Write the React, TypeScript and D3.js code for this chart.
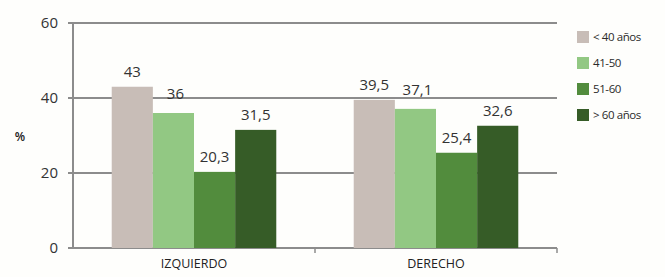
import { useRef, useEffect } from "react";
import * as d3 from "d3";

const categories = ["IZQUIERDO", "DERECHO"];
const seriesNames = ["< 40 años", "41-50", "51-60", "> 60 años"];
const seriesColors = ["#c8bdb7", "#92c883", "#528c3d", "#365c27"];
const values = [
  [43, 39.5],
  [36, 37.1],
  [20.3, 25.4],
  [31.5, 32.6],
];
const yTicks = [0, 20, 40, 60];

const fmt = (v: number) => String(v).replace(".", ",");

export default function App() {
  const svgRef = useRef<SVGSVGElement>(null);

  useEffect(() => {
    const svg = d3.select(svgRef.current);
    svg.selectAll("*").remove();

    const W = 665;
    const H = 277;
    const margin = { top: 23, right: 108, bottom: 29, left: 73 };
    const width = W - margin.left - margin.right;
    const height = H - margin.top - margin.bottom;
    const font = "'Open Sans', 'DejaVu Sans', sans-serif";
    const gridColor = "#8c8c8c";

    svg.attr("width", W).attr("height", H);
    svg.append("rect").attr("width", W).attr("height", H).attr("fill", "#fefefc");

    const g = svg.append("g").attr("transform", `translate(${margin.left},${margin.top})`);

    const x0 = d3.scaleBand().domain(categories).range([0, width]).paddingInner(0.32).paddingOuter(0.16);
    const x1 = d3
      .scaleBand()
      .domain(seriesNames)
      .range([0, x0.bandwidth()]);
    const y = d3.scaleLinear().domain([0, 60]).range([height, 0]);

    // grid lines + y ticks
    yTicks.forEach((t) => {
      g.append("line")
        .attr("x1", -5)
        .attr("x2", width)
        .attr("y1", y(t))
        .attr("y2", y(t))
        .attr("stroke", gridColor)
        .attr("stroke-width", 2);
      g.append("text")
        .attr("x", -15)
        .attr("y", y(t))
        .attr("dy", "0.36em")
        .attr("text-anchor", "end")
        .attr("font-family", font)
        .attr("font-size", "15px")
        .attr("fill", "#333")
        .text(t);
    });

    // y axis line
    g.append("line")
      .attr("x1", 0)
      .attr("x2", 0)
      .attr("y1", 0)
      .attr("y2", height)
      .attr("stroke", gridColor)
      .attr("stroke-width", 2);

    // category separators on x axis
    [0.5, 1].forEach((f) => {
      g.append("line")
        .attr("x1", width * f)
        .attr("x2", width * f)
        .attr("y1", height)
        .attr("y2", height + 5)
        .attr("stroke", gridColor)
        .attr("stroke-width", 1.5);
    });

    // bars
    categories.forEach((c, ci) => {
      seriesNames.forEach((s, si) => {
        const v = values[si][ci];
        const bx = (x0(c) ?? 0) + (x1(s) ?? 0);
        g.append("rect")
          .attr("x", bx)
          .attr("y", y(v))
          .attr("width", x1.bandwidth())
          .attr("height", height - y(v))
          .attr("fill", seriesColors[si]);
      });
    });

    // value labels
    categories.forEach((c, ci) => {
      seriesNames.forEach((s, si) => {
        const v = values[si][ci];
        const bx = (x0(c) ?? 0) + (x1(s) ?? 0) + x1.bandwidth() / 2;
        const off = si === 1 ? 14 : 10;
        g.append("text")
          .attr("x", bx + (si === 1 ? 2 : 0))
          .attr("y", y(v) - off)
          .attr("text-anchor", "middle")
          .attr("font-family", font)
          .attr("font-size", "15px")
          .attr("fill", "#333")
          .text(fmt(v));
      });
    });

    // category labels
    categories.forEach((c) => {
      g.append("text")
        .attr("x", (x0(c) ?? 0) + x0.bandwidth() / 2)
        .attr("y", height + 20)
        .attr("text-anchor", "middle")
        .attr("font-family", font)
        .attr("font-size", "12.5px")
        .attr("font-weight", "500")
        .attr("fill", "#222")
        .text(c);
    });

    // y label
    svg.append("text")
      .attr("x", 20)
      .attr("y", 141)
      .attr("text-anchor", "middle")
      .attr("font-family", font)
      .attr("font-size", "12px")
      .attr("font-weight", "600")
      .attr("fill", "#222")
      .text("%");

    // legend
    const legend = svg.append("g").attr("transform", "translate(577,37)");
    seriesNames.forEach((s, i) => {
      const row = legend.append("g").attr("transform", `translate(0,${i * 26})`);
      row.append("rect")
        .attr("x", 0)
        .attr("y", -6)
        .attr("width", 12)
        .attr("height", 12)
        .attr("fill", seriesColors[i]);
      row.append("text")
        .attr("x", 16)
        .attr("y", 0)
        .attr("dy", "0.35em")
        .attr("font-family", font)
        .attr("font-size", "11.5px")
        .attr("letter-spacing", "-0.4px")
        .attr("fill", "#2a2a2a")
        .text(s);
    });
  }, []);

  return (
    <svg
      ref={svgRef}
      style={{ position: "absolute", left: 0, top: 0, display: "block" }}
    />
  );
}
